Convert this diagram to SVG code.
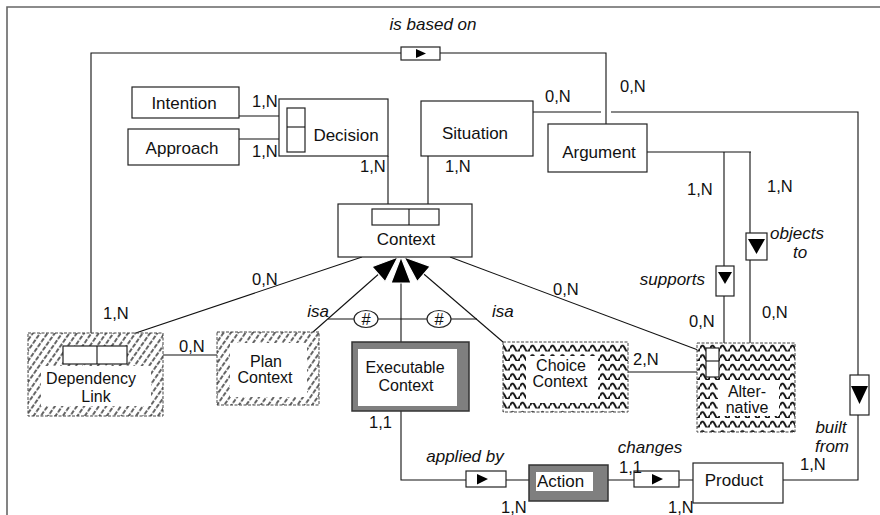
<svg xmlns="http://www.w3.org/2000/svg" width="880" height="515" viewBox="0 0 880 515">
  <defs>
    <style>
      .box { fill: #fff; stroke: #222; stroke-width: 1.2; }
      .line { fill: none; stroke: #111; stroke-width: 1.1; }
      .lbl { font-family: "Liberation Sans", Arial, sans-serif; font-size: 17px; fill: #111; text-anchor: middle; }
      .lbl2 { font-family: "Liberation Sans", Arial, sans-serif; font-size: 16px; fill: #111; text-anchor: middle; }
      .card { font-family: "Liberation Sans", Arial, sans-serif; font-size: 16.5px; fill: #111; }
      .role { font-family: "Liberation Sans", Arial, sans-serif; font-size: 17px; font-style: italic; fill: #111; }
      .tri { fill: #000; }
      .heavy { fill: #7f7f7f; stroke: #333; stroke-width: 1.5; }
      .frame { fill: none; stroke: #666; stroke-width: 1.6; }
      .textured { stroke: #444; stroke-width: 1; stroke-dasharray: 3 1.5; }
    </style>
    <pattern id="hatch" width="6" height="6" patternUnits="userSpaceOnUse" patternTransform="rotate(35)">
      <rect width="6" height="6" fill="#fff"/>
      <line x1="2" y1="0" x2="2" y2="6" stroke="#222" stroke-width="1.4" stroke-dasharray="4.5 1.5"/>
    </pattern>
    <pattern id="wave" width="10" height="9.5" patternUnits="userSpaceOnUse">
      <rect width="10" height="9.5" fill="#fff"/>
      <path d="M0,6.5 Q2.5,0.5 5,6.5 T10,6.5" fill="none" stroke="#111" stroke-width="2"/>
    </pattern>
    <marker id="isa" markerUnits="userSpaceOnUse" viewBox="-2 -2 32 26" markerWidth="32" markerHeight="26" refX="26" refY="10" orient="auto">
      <path d="M0,0 L26,10 L0,20 Z" fill="#000" stroke="#fff" stroke-width="1.2"/>
    </marker>
  </defs>

  <rect width="880" height="515" fill="#fff"/>
  <!-- outer frame -->
  <path class="frame" d="M7,515 V7 H880"/>

  <!-- connectors -->
  <g id="connectors">
    <!-- is based on -->
    <path class="line" d="M91,333 V53 H401 M440,53 H606 V124"/>
    <rect class="box" x="401" y="47" width="39" height="13"/>
    <path class="tri" d="M416,49 L426,53.5 L416,58 Z"/>
    <text class="role" x="433" y="30" text-anchor="middle">is based on</text>

    <!-- decision components -->
    <path class="line" d="M235,116 H287 M235,139 H287"/>
    <path class="line" d="M388,156 V209 M428,156 V209"/>

    <!-- built from -->
    <path class="line" d="M533,112 H601 M611,112 H858 V480 H783"/>
    <rect class="box" x="850" y="375" width="19" height="40"/>
    <path class="tri" d="M851,386 L868,386 L859.5,404 Z"/>
    <text class="role" x="831" y="433" text-anchor="middle">built</text>
    <text class="role" x="832" y="452" text-anchor="middle">from</text>

    <!-- supports / objects to -->
    <path class="line" d="M647,152 H751 M724,152 V266 M724,296 V343 M750,152 V233 M750,260 V343"/>
    <rect class="box" x="716" y="266" width="18" height="30"/>
    <path class="tri" d="M718,272 L732,272 L725,284 Z"/>
    <rect class="box" x="746" y="233" width="21" height="27"/>
    <path class="tri" d="M748,239 L765,239 L756.5,254 Z"/>
    <text class="role" x="705" y="285" text-anchor="end">supports</text>
    <text class="role" x="797" y="239" text-anchor="middle">objects</text>
    <text class="role" x="800" y="258" text-anchor="middle">to</text>

    <!-- context relations -->
    <path class="line" d="M362,257 L97,346"/>
    <path class="line" d="M450,257 L706,353"/>
    <path class="line" d="M628,372 H706"/>
    <path class="line" d="M127,355 H217"/>

    <!-- isa hierarchy -->
    <path class="line" d="M328,319 H477"/>
    <path class="line" d="M313,332 L398,257" marker-end="url(#isa)"/>
    <path class="line" d="M401,342 V257" marker-end="url(#isa)"/>
    <path class="line" d="M503,342 L404,257" marker-end="url(#isa)"/>
    <ellipse class="box" cx="366" cy="319" rx="12" ry="8.5"/>
    <ellipse class="box" cx="439" cy="319" rx="12" ry="8.5"/>
    <text class="card" x="366" y="325" text-anchor="middle">#</text>
    <text class="card" x="439" y="325" text-anchor="middle">#</text>
    <text class="role" x="329" y="317" text-anchor="end">isa</text>
    <text class="role" x="492" y="317">isa</text>

    <!-- applied by / changes -->
    <path class="line" d="M401,411 V480 H466 M506,480 H529 M608,480 H634 M679,480 H693"/>
    <rect class="box" x="466" y="471" width="40" height="16"/>
    <path class="tri" d="M477,474 L488,479 L477,484.5 Z"/>
    <rect class="box" x="634" y="471" width="45" height="16"/>
    <path class="tri" d="M652,474 L663,479 L652,484.5 Z"/>
    <text class="role" x="465" y="462" text-anchor="middle">applied by</text>
    <text class="role" x="650" y="453" text-anchor="middle">changes</text>

    <!-- cardinalities -->
    <text class="card" x="252" y="107">1,N</text>
    <text class="card" x="252" y="157">1,N</text>
    <text class="card" x="360" y="172">1,N</text>
    <text class="card" x="445" y="172">1,N</text>
    <text class="card" x="545" y="102">0,N</text>
    <text class="card" x="620" y="92">0,N</text>
    <text class="card" x="687" y="195">1,N</text>
    <text class="card" x="767" y="192">1,N</text>
    <text class="card" x="689" y="327">0,N</text>
    <text class="card" x="762" y="318">0,N</text>
    <text class="card" x="252" y="285">0,N</text>
    <text class="card" x="553" y="295">0,N</text>
    <text class="card" x="103" y="319">1,N</text>
    <text class="card" x="179" y="352">0,N</text>
    <text class="card" x="633" y="365">2,N</text>
    <text class="card" x="369" y="428">1,1</text>
    <text class="card" x="501" y="513">1,N</text>
    <text class="card" x="619" y="473">1,1</text>
    <text class="card" x="668" y="513">1,N</text>
    <text class="card" x="800" y="470">1,N</text>
  </g>

  <!-- entity nodes -->
  <g id="intention">
    <rect class="box" x="132" y="87" width="107" height="31"/>
    <text class="lbl" x="184" y="109">Intention</text>
  </g>
  <g id="approach">
    <rect class="box" x="128" y="129" width="111" height="36"/>
    <text class="lbl" x="182" y="154">Approach</text>
  </g>
  <g id="decision">
    <rect class="box" x="279" y="99" width="109" height="57"/>
    <rect class="box" x="287" y="108" width="18" height="44"/>
    <line class="line" x1="287" y1="127" x2="305" y2="127"/>
    <text class="lbl" x="346" y="141">Decision</text>
  </g>
  <g id="situation">
    <rect class="box" x="421" y="101" width="112" height="55"/>
    <text class="lbl" x="475" y="139">Situation</text>
  </g>
  <g id="argument">
    <rect class="box" x="548" y="124" width="99" height="48"/>
    <text class="lbl" x="599" y="158">Argument</text>
  </g>
  <g id="context">
    <rect class="box" x="338" y="204" width="134" height="53"/>
    <rect class="box" x="372" y="209" width="67" height="16"/>
    <line class="line" x1="409" y1="209" x2="409" y2="225"/>
    <text class="lbl" x="406" y="245">Context</text>
  </g>
  <g id="dependency-link">
    <rect class="textured" x="28" y="333" width="135" height="83" fill="url(#hatch)"/>
    <rect x="41" y="366" width="110" height="40" fill="#fff"/>
    <rect class="box" x="63" y="346" width="64" height="18"/>
    <line class="line" x1="97" y1="346" x2="97" y2="364"/>
    <text class="lbl2" x="91" y="384">Dependency</text>
    <text class="lbl2" x="96" y="402">Link</text>
  </g>
  <g id="plan-context">
    <rect class="textured" x="217" y="332" width="102" height="73" fill="url(#hatch)"/>
    <rect x="230" y="343" width="77" height="54" fill="#fff"/>
    <text class="lbl2" x="266" y="367">Plan</text>
    <text class="lbl2" x="265" y="383">Context</text>
  </g>
  <g id="executable-context">
    <rect class="heavy" x="352" y="342" width="117" height="69"/>
    <rect x="358" y="349" width="99" height="57" fill="#fff"/>
    <text class="lbl2" x="405" y="373">Executable</text>
    <text class="lbl2" x="406" y="391">Context</text>
  </g>
  <g id="choice-context">
    <rect class="textured" x="503" y="342" width="125" height="70" fill="url(#wave)"/>
    <rect x="526" y="356" width="72" height="47" fill="#fff"/>
    <text class="lbl2" x="561" y="371">Choice</text>
    <text class="lbl2" x="560" y="387">Context</text>
  </g>
  <g id="alternative">
    <rect class="textured" x="697" y="343" width="98" height="89" fill="url(#wave)"/>
    <rect x="718" y="381" width="61" height="35" fill="#fff"/>
    <rect class="box" x="706" y="348" width="13" height="29"/>
    <line class="line" x1="706" y1="361" x2="719" y2="361"/>
    <text class="lbl2" x="747" y="397">Alter-</text>
    <text class="lbl2" x="747" y="413">native</text>
  </g>
  <g id="action">
    <rect class="heavy" x="529" y="465" width="79" height="36"/>
    <rect x="536" y="472" width="57" height="19" fill="#fff"/>
    <text class="lbl" x="537" y="487" style="text-anchor:start">Action</text>
  </g>
  <g id="product">
    <rect class="box" x="693" y="463" width="90" height="40"/>
    <text class="lbl" x="734" y="486">Product</text>
  </g>
</svg>
